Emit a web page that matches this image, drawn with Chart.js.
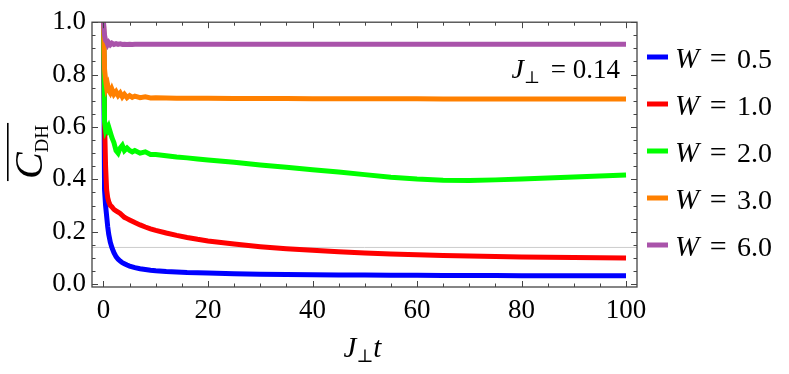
<!DOCTYPE html>
<html>
<head>
<meta charset="utf-8">
<script src="https://cdn.jsdelivr.net/npm/chart.js@4.4.1/dist/chart.umd.min.js"></script>
<style>
html,body{margin:0;padding:0;background:#fff;}
#wrap{width:789px;height:374px;position:relative;}
</style>
</head>
<body>
<div id="wrap"><canvas id="c"></canvas></div>
<script>
// ---- data ----
const t = [0, 0.2, 0.4, 0.6, 0.8, 1.0, 1.3, 1.6, 2.0, 2.4, 2.8, 3.2, 3.6, 4.0, 4.5, 5.0, 5.5, 6.0, 7, 8, 9, 10, 12, 14, 16, 18, 20, 25, 30, 35, 40, 45, 50, 55, 60, 65, 70, 75, 80, 85, 90, 95, 100];
const wLabels = ['0.5', '1.0', '2.0', '3.0', '6.0'];
const cW05 = [1.0, 0.36, 0.30, 0.26, 0.22, 0.19, 0.16, 0.14, 0.12, 0.105, 0.095, 0.088, 0.082, 0.078, 0.073, 0.069, 0.066, 0.063, 0.059, 0.056, 0.053, 0.051, 0.048, 0.046, 0.044, 0.043, 0.042, 0.040, 0.038, 0.037, 0.036, 0.035, 0.035, 0.034, 0.034, 0.033, 0.033, 0.033, 0.032, 0.032, 0.032, 0.032, 0.032];
const cW10 = [1.0, 0.62, 0.45, 0.36, 0.33, 0.315, 0.30, 0.295, 0.285, 0.28, 0.275, 0.27, 0.262, 0.255, 0.25, 0.245, 0.24, 0.235, 0.226, 0.218, 0.211, 0.205, 0.195, 0.186, 0.178, 0.171, 0.165, 0.153, 0.143, 0.135, 0.129, 0.124, 0.119, 0.115, 0.112, 0.109, 0.107, 0.105, 0.104, 0.103, 0.102, 0.101, 0.100];
const cW20 = [1.0, 0.62, 0.59, 0.60, 0.59, 0.60, 0.58, 0.56, 0.54, 0.51, 0.50, 0.52, 0.53, 0.51, 0.52, 0.51, 0.505, 0.51, 0.50, 0.505, 0.495, 0.495, 0.49, 0.485, 0.482, 0.478, 0.474, 0.465, 0.455, 0.446, 0.437, 0.428, 0.418, 0.408, 0.401, 0.397, 0.396, 0.398, 0.401, 0.405, 0.409, 0.413, 0.417];
const cW30 = [1.0, 0.82, 0.78, 0.75, 0.76, 0.74, 0.73, 0.745, 0.725, 0.735, 0.72, 0.73, 0.715, 0.725, 0.712, 0.72, 0.713, 0.718, 0.712, 0.715, 0.711, 0.712, 0.711, 0.710, 0.710, 0.710, 0.710, 0.709, 0.709, 0.709, 0.708, 0.708, 0.708, 0.708, 0.708, 0.707, 0.707, 0.707, 0.707, 0.707, 0.707, 0.707, 0.707];
const cW60 = [1.0, 0.95, 0.93, 0.925, 0.915, 0.922, 0.914, 0.92, 0.915, 0.918, 0.915, 0.917, 0.915, 0.916, 0.915, 0.916, 0.915, 0.916, 0.916, 0.916, 0.916, 0.916, 0.916, 0.916, 0.916, 0.916, 0.916, 0.916, 0.916, 0.916, 0.916, 0.916, 0.916, 0.916, 0.916, 0.916, 0.916, 0.916, 0.916, 0.916, 0.916, 0.916, 0.916];
const refLevel = 0.14;          // J_perp = 0.14 reference line
const xTicks = [0, 20, 40, 60, 80, 100];
const xTickLabels = ['0', '20', '40', '60', '80', '100'];
const yTicks = [0.0, 0.2, 0.4, 0.6, 0.8, 1.0];
const yTickLabels = ['0.0', '0.2', '0.4', '0.6', '0.8', '1.0'];
const xRange = [-2.2, 102.1];
const yRange = [-0.011, 1.0];

// ---- styles ----
const colors = ['#0000ff', '#ff0000', '#00ff00', '#ff8000', '#a953aa'];
const seriesVals = [cW05, cW10, cW20, cW30, cW60];
const SERIF = "'DejaVu Serif', 'Liberation Serif', serif";
const SERIF_T = "'Liberation Serif', 'DejaVu Serif', serif";

function drawRich(ctx, parts, x, y, align) {
  let w = 0;
  parts.forEach(p => { ctx.font = p.font; p.w = ctx.measureText(p.text).width; w += p.w + (p.gap || 0); });
  let cx = align === 'center' ? x - w / 2 : (align === 'right' ? x - w : x);
  parts.forEach(p => { cx += (p.gap || 0); ctx.font = p.font; ctx.fillText(p.text, cx, y + (p.dy || 0)); cx += p.w; });
  return w;
}

function build() {
  const datasets = seriesVals.map((vals, i) => ({
    label: 'W = ' + wLabels[i],
    data: t.map((x, k) => ({x: x, y: vals[k]})),
    borderColor: colors[i],
    backgroundColor: colors[i],
    borderWidth: 5,
    pointRadius: 0,
    tension: 0,
    fill: false,
    clip: 0,
    order: 5 - i
  }));
  datasets.push({
    label: 'ref',
    data: [{x: xRange[0], y: refLevel}, {x: xRange[1], y: refLevel}],
    borderColor: '#cccccc',
    borderWidth: 1,
    pointRadius: 0,
    clip: 0,
    order: 10
  });

  const decor = {
    id: 'decor',
    afterDatasetsDraw(chart) {
      const {ctx, chartArea: a, scales: {x, y}} = chart;
      ctx.save();
      ctx.strokeStyle = '#444';
      ctx.lineWidth = 1.3;
      ctx.strokeRect(a.left, a.top, a.right - a.left, a.bottom - a.top);
      ctx.lineWidth = 1;
      ctx.beginPath();
      for (let v = 0; v <= 100.001; v += 5) {
        const px = Math.round(x.getPixelForValue(v)) + 0.5;
        const len = (v % 20 === 0) ? 6 : 3.5;
        ctx.moveTo(px, a.bottom); ctx.lineTo(px, a.bottom - len);
        ctx.moveTo(px, a.top); ctx.lineTo(px, a.top + len);
      }
      for (let k = 0; k <= 20; k++) {
        const v = k * 0.05;
        const py = Math.round(y.getPixelForValue(v)) + 0.5;
        const len = (k % 4 === 0) ? 6 : 3.5;
        ctx.moveTo(a.left, py); ctx.lineTo(a.left + len, py);
        ctx.moveTo(a.right, py); ctx.lineTo(a.right - len, py);
      }
      ctx.stroke();
      ctx.restore();
    },
    afterDraw(chart) {
      const {ctx, chartArea: a} = chart;
      ctx.save();
      ctx.fillStyle = '#000';
      ctx.textBaseline = 'alphabetic';
      const lx = 647, ly0 = 57, dy = 47;
      wLabels.forEach((lab, i) => {
        const yy = ly0 + i * dy;
        ctx.fillStyle = colors[i];
        ctx.fillRect(lx, yy - 2.5, 21, 5);
        ctx.fillStyle = '#000';
        drawRich(ctx, [
          {text: 'W', font: 'italic 29px ' + SERIF_T},
          {text: ' = ', font: '30px ' + SERIF_T, gap: 3},
          {text: lab, font: '28px ' + SERIF_T, gap: 3}
        ], lx + 28, yy + 11, 'left');
      });
      drawRich(ctx, [
        {text: 'J', font: 'italic 28px ' + SERIF_T},
        {text: '\u22A5', font: '17px ' + SERIF, dy: 5},
        {text: ' = 0.14', font: '27px ' + SERIF_T, gap: 4}
      ], 620, 78, 'right');
      drawRich(ctx, [
        {text: 'J', font: 'italic 29px ' + SERIF_T},
        {text: '\u22A5', font: '18px ' + SERIF, dy: 5},
        {text: 't', font: 'italic 29px ' + SERIF_T}
      ], (a.left + a.right) / 2 - 2, 357, 'center');
      ctx.translate(42, 152);
      ctx.rotate(-Math.PI / 2);
      const w = drawRich(ctx, [
        {text: 'C', font: 'italic 40px ' + SERIF_T},
        {text: 'DH', font: '19px ' + SERIF_T, dy: 6}
      ], 0, 0, 'center');
      ctx.fillRect(-w / 2 - 2, -35, w + 4, 1.6);
      ctx.restore();
    }
  };

  new Chart(document.getElementById('c'), {
    type: 'line',
    data: {datasets: datasets},
    options: {
      responsive: true,
      maintainAspectRatio: false,
      devicePixelRatio: 1,
      animation: false,
      layout: {padding: {left: 0, right: 152, top: 16, bottom: 0}},
      plugins: {legend: {display: false}, tooltip: {enabled: false}},
      scales: {
        x: {
          type: 'linear', min: xRange[0], max: xRange[1],
          afterBuildTicks: s => { s.ticks = xTicks.map(v => ({value: v})); },
          afterFit: s => { s.height = 87; },
          grid: {display: false, drawTicks: false},
          border: {display: false},
          ticks: {
            autoSkip: false, maxRotation: 0, padding: 8, color: '#000',
            font: {family: SERIF_T, size: 27},
            callback: (v, i) => xTickLabels[i]
          }
        },
        y: {
          type: 'linear', min: yRange[0], max: yRange[1],
          afterBuildTicks: s => { s.ticks = yTicks.map(v => ({value: v})); },
          afterFit: s => { s.width = 92; },
          grid: {display: false, drawTicks: false},
          border: {display: false},
          ticks: {
            autoSkip: false, padding: 6, color: '#000',
            font: {family: SERIF_T, size: 27},
            callback: (v, i) => yTickLabels[i]
          }
        }
      }
    },
    plugins: [decor]
  });
}

const fontLoads = [
  '27px "Liberation Serif"', 'italic 27px "Liberation Serif"',
  '27px "DejaVu Serif"', 'italic 27px "DejaVu Serif"'
].map(f => document.fonts.load(f).catch(() => null));
Promise.all(fontLoads).then(build, build);
</script>
</body>
</html>
